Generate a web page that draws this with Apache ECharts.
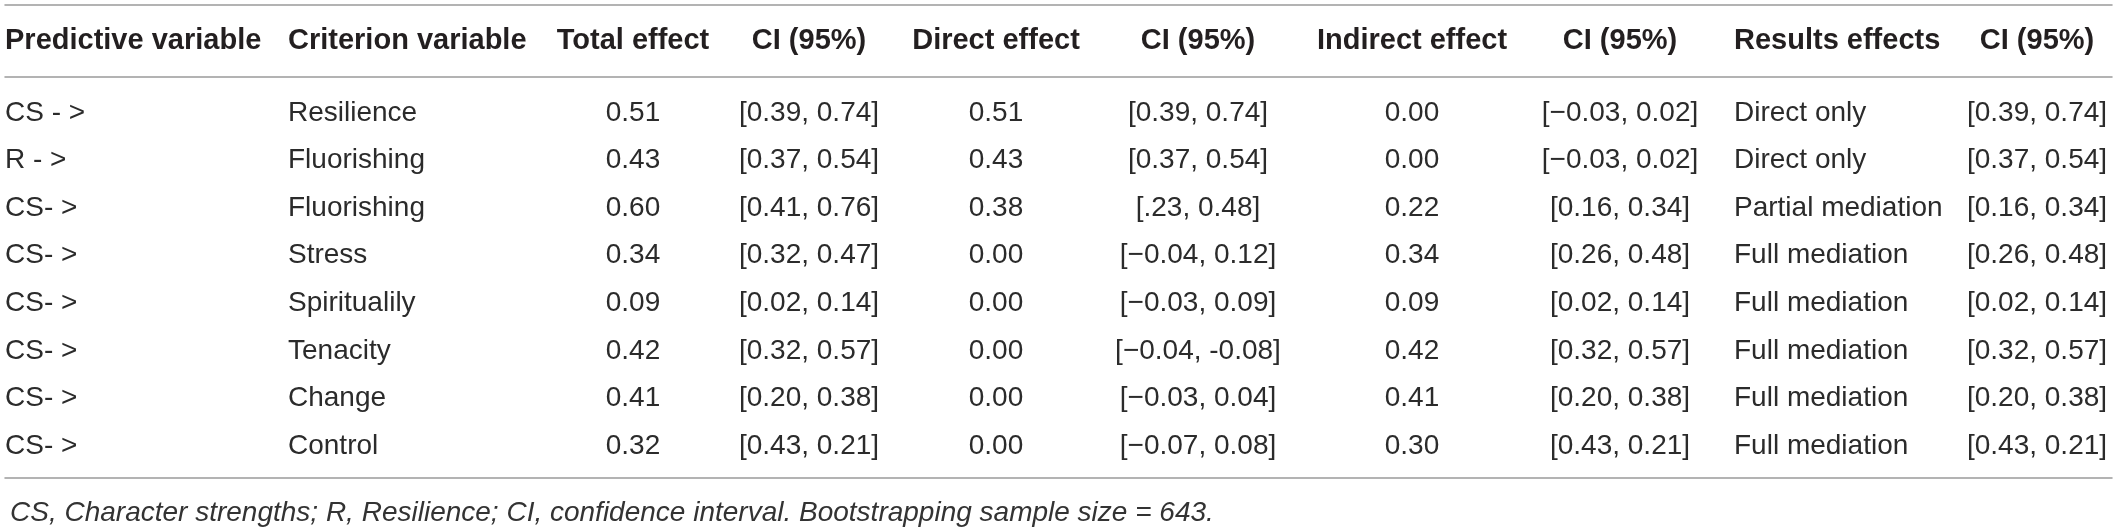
<!DOCTYPE html>
<html>
<head>
<meta charset="utf-8">
<title>Mediation effects table</title>
<script src="https://cdn.jsdelivr.net/npm/echarts@6.0.0/dist/echarts.min.js"></script>
<style>
  html, body { margin: 0; padding: 0; background: #fff; }
  #table { width: 2117px; height: 528px; }
</style>
</head>
<body>
<div id="table"></div>
<script>
// table contents
var headers = ['Predictive variable', 'Criterion variable', 'Total effect', 'CI (95%)', 'Direct effect',
  'CI (95%)', 'Indirect effect', 'CI (95%)', 'Results effects', 'CI (95%)'];
var predictors = ['CS - >', 'R - >', 'CS- >', 'CS- >', 'CS- >', 'CS- >', 'CS- >', 'CS- >'];
var criteria = ['Resilience', 'Fluorishing', 'Fluorishing', 'Stress', 'Spiritualily', 'Tenacity', 'Change', 'Control'];
var totalEffect = [0.51, 0.43, 0.60, 0.34, 0.09, 0.42, 0.41, 0.32];
var totalCI = ['[0.39, 0.74]', '[0.37, 0.54]', '[0.41, 0.76]', '[0.32, 0.47]', '[0.02, 0.14]', '[0.32, 0.57]', '[0.20, 0.38]', '[0.43, 0.21]'];
var directEffect = [0.51, 0.43, 0.38, 0.00, 0.00, 0.00, 0.00, 0.00];
var directCI = ['[0.39, 0.74]', '[0.37, 0.54]', '[.23, 0.48]', '[\u22120.04, 0.12]', '[\u22120.03, 0.09]', '[\u22120.04, -0.08]', '[\u22120.03, 0.04]', '[\u22120.07, 0.08]'];
var indirectEffect = [0.00, 0.00, 0.22, 0.34, 0.09, 0.42, 0.41, 0.30];
var indirectCI = ['[\u22120.03, 0.02]', '[\u22120.03, 0.02]', '[0.16, 0.34]', '[0.26, 0.48]', '[0.02, 0.14]', '[0.32, 0.57]', '[0.20, 0.38]', '[0.43, 0.21]'];
var resultsEffects = ['Direct only', 'Direct only', 'Partial mediation', 'Full mediation', 'Full mediation', 'Full mediation', 'Full mediation', 'Full mediation'];
var resultsCI = ['[0.39, 0.74]', '[0.37, 0.54]', '[0.16, 0.34]', '[0.26, 0.48]', '[0.02, 0.14]', '[0.32, 0.57]', '[0.20, 0.38]', '[0.43, 0.21]'];
var footnote = 'CS, Character strengths; R, Resilience; CI, confidence interval. Bootstrapping sample size = 643.';

function fmt(v) { return v.toFixed(2); }

var columns = [predictors, criteria, totalEffect.map(fmt), totalCI, directEffect.map(fmt), directCI,
  indirectEffect.map(fmt), indirectCI, resultsEffects, resultsCI];

// layout: x anchor of every column (in px along the x axis) and how text sits on it
var colAnchor = [5, 288, 633, 809, 996, 1198, 1412, 1620, 1734, 2037];
var colAlign = ['left', 'left', 'center', 'center', 'center', 'center', 'center', 'center', 'left', 'center'];
var rowNames = predictors.map(function (p, i) { return 'r' + i; });

var ruleColor = '#9a9a9a';
var font = '"Liberation Sans", Arial, Helvetica, sans-serif';

var headerData = headers.map(function (h, c) {
  return { value: [colAnchor[c], 0], text: h, align: colAlign[c] };
});
var bodyData = [];
columns.forEach(function (col, c) {
  col.forEach(function (txt, r) {
    bodyData.push({ value: [colAnchor[c], r], text: txt, align: colAlign[c] });
  });
});

function textRenderer(items, weight, size, color) {
  return function (params, api) {
    var item = items[params.dataIndex];
    var p = api.coord([api.value(0), api.value(1)]);
    return {
      type: 'text',
      x: p[0],
      y: p[1],
      style: {
        text: item.text,
        fontFamily: font,
        fontWeight: weight,
        fontSize: size,
        fill: color,
        align: item.align,
        verticalAlign: 'middle'
      }
    };
  };
}

function hiddenX(grid, pos, showLine, offset) {
  return {
    type: 'value', gridIndex: grid, position: pos, min: 5, max: 2112, offset: offset || 0,
    axisLine: { show: showLine, onZero: false, lineStyle: { color: ruleColor, width: 1.5 } },
    axisTick: { show: false }, axisLabel: { show: false }, splitLine: { show: false }
  };
}

var myChart = echarts.init(document.getElementById('table'));
var option = {
  animation: false,
  backgroundColor: '#fff',
  title: {
    text: footnote,
    left: 5,
    top: 494,
    textStyle: { fontFamily: font, fontStyle: 'italic', fontWeight: 'normal', fontSize: 28, color: '#333' }
  },
  grid: [
    { left: 5, right: 5, top: 5, height: 72 },
    { left: 5, right: 5, top: 89.2, bottom: 58.2 }
  ],
  xAxis: [
    hiddenX(0, 'top', true),
    hiddenX(0, 'bottom', true),
    hiddenX(1, 'bottom', true, 8)
  ],
  yAxis: [
    { type: 'category', gridIndex: 0, data: ['header'], show: false },
    { type: 'category', gridIndex: 1, data: rowNames, inverse: true, show: false }
  ],
  series: [
    {
      type: 'custom',
      xAxisIndex: 0,
      yAxisIndex: 0,
      renderItem: textRenderer(headerData, 'bold', 29, '#231f20'),
      data: headerData.map(function (d) { return d.value; }),
      silent: true
    },
    {
      type: 'custom',
      xAxisIndex: 2,
      yAxisIndex: 1,
      renderItem: textRenderer(bodyData, 'normal', 28, '#2b2b2b'),
      data: bodyData.map(function (d) { return d.value; }),
      silent: true
    }
  ]
};
myChart.setOption(option);
</script>
</body>
</html>
